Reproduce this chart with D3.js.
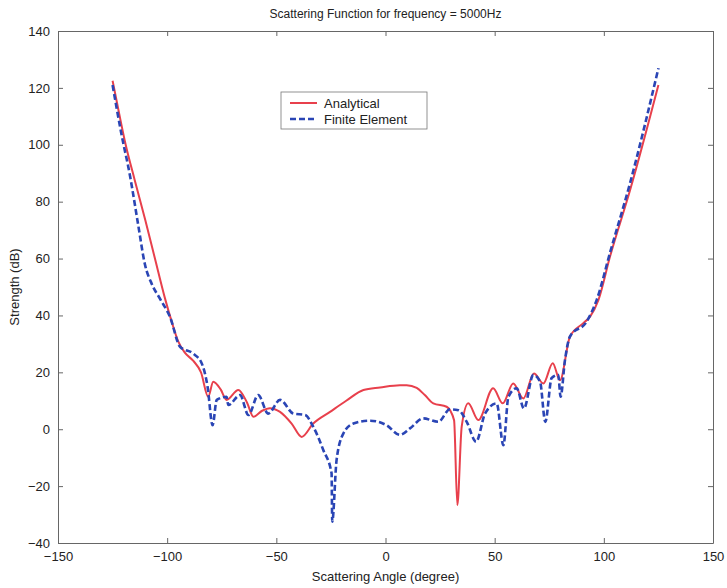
<!DOCTYPE html>
<html>
<head>
<meta charset="utf-8">
<script src="https://cdn.jsdelivr.net/npm/d3@7"></script>
<style>
  body { margin: 0; background: #fff; }
  text { font-family: "Liberation Sans", Arial, sans-serif; fill: #222; }
</style>
</head>
<body>
<svg id="chart"></svg>
<script>
// Analytical (solid red) - angle in degrees, strength in dB
var analyticalAngle = [-125, -122, -119, -115, -110, -105.6, -101, -98, -95, -92, -88, -84.5, -81.2, -78.9, -75.5, -72.8, -67.4, -63.5, -60.5, -56.5, -52.9, -48.3, -43, -38.4, -33.1, -25.4, -18, -10.1, -2.5, 6.6, 9.7, 14.3, 18, 21.9, 28, 31.4, 32.9, 34.9, 37.9, 42.5, 49.3, 53.7, 58.5, 63.1, 68, 72.3, 76.6, 79.9, 84.5, 90.6, 93.7, 97.5, 102.8, 112, 125];
var analyticalDb = [122.5, 111, 100, 88, 73.5, 60, 46, 38, 31, 27, 24, 20, 11.4, 16.7, 14, 10.3, 13.8, 9.5, 4.4, 6.5, 7.4, 6.1, 2, -2.7, 2, 6.1, 10, 13.8, 14.7, 15.5, 15.5, 14.5, 12, 9.1, 7.9, 3.2, -26.7, 0.9, 9.1, 3.2, 14.4, 9.1, 16.1, 10.8, 19.6, 16.1, 23.2, 17.2, 32.6, 37.3, 39.6, 45.4, 60.6, 84, 121];

// Finite element (dashed blue)
var feAngle = [-125, -121, -117, -113.2, -110.2, -107, -103, -98.7, -94.1, -88.1, -84.2, -81.5, -79.2, -77.3, -72.8, -72, -66.6, -62.8, -58.3, -53.7, -48.3, -42.2, -36.8, -33.1, -28.5, -24.7, -24.4, -22.4, -19.3, -14.7, -7.1, 0.5, 6.6, 11.2, 17.3, 24.2, 29.5, 33.4, 37.2, 41.5, 45.6, 50.9, 54, 56.3, 60.1, 63.4, 67.7, 70.8, 73.2, 76.1, 79.1, 80.2, 82.2, 84.5, 92.1, 96.7, 103, 112, 125];
var feDb = [121, 104, 89, 71.5, 58, 51, 45.5, 39.5, 29, 26.6, 23.2, 15, 1.4, 10.3, 11.4, 8.5, 12, 5, 12, 5.5, 10.3, 5.5, 5, 0.9, -7.3, -15.5, -32.5, -10.8, -1.5, 2, 3, 1.4, -2, 0.3, 3.8, 2.6, 7, 6.7, 2.6, -4.4, 5.5, 9.1, -5.6, 11.4, 14.4, 7.3, 19.1, 16.7, 2.6, 18, 19.1, 11.4, 24.3, 32.6, 37.8, 45.4, 62.5, 86.5, 126.9];

var xTicks = [-150, -100, -50, 0, 50, 100, 150];
var yTicks = [-40, -20, 0, 20, 40, 60, 80, 100, 120, 140];

var W = 727, H = 588;
var margin = { top: 31, right: 14, bottom: 45, left: 58 };
var width = W - margin.left - margin.right,
    height = H - margin.top - margin.bottom;

var svg = d3.select("#chart").attr("width", W).attr("height", H);
var g = svg.append("g").attr("transform", `translate(${margin.left},${margin.top})`);

var xScale = d3.scaleLinear().domain([-150, 150]).range([0, width]);
var yScale = d3.scaleLinear().domain([-40, 140]).range([height, 0]);

// Axes, MATLAB style: ticks pointing inward on all four sides
g.append("g")
    .attr("transform", `translate(0, ${height})`)
    .call(d3.axisBottom(xScale).tickValues(xTicks).tickSizeInner(-5).tickSizeOuter(0).tickPadding(9));
g.append("g")
    .call(d3.axisTop(xScale).tickValues(xTicks).tickSizeInner(-5).tickSizeOuter(0).tickFormat(""));
g.append("g")
    .call(d3.axisLeft(yScale).tickValues(yTicks).tickSizeInner(-5).tickSizeOuter(0).tickPadding(8));
g.append("g")
    .attr("transform", `translate(${width}, 0)`)
    .call(d3.axisRight(yScale).tickValues(yTicks).tickSizeInner(-5).tickSizeOuter(0).tickFormat(""));

g.selectAll(".domain").attr("stroke", "#666");
g.selectAll(".tick line").attr("stroke", "#666");
g.selectAll(".tick text").style("font-size", "13px").attr("fill", "#222");

// Lines
var line = d3.line()
    .x(function (d) { return xScale(d[0]); })
    .y(function (d) { return yScale(d[1]); })
    .curve(d3.curveMonotoneX);

var analytical = analyticalAngle.map(function (a, i) { return [a, analyticalDb[i]]; });
var fe = feAngle.map(function (a, i) { return [a, feDb[i]]; });

g.append("path")
    .datum(analytical)
    .attr("fill", "none")
    .attr("stroke", "#e8404c")
    .attr("stroke-width", 2)
    .attr("d", line);

g.append("path")
    .datum(fe)
    .attr("fill", "none")
    .attr("stroke", "#2a45b5")
    .attr("stroke-width", 2.6)
    .attr("stroke-dasharray", "6,3")
    .attr("d", line);

// Title
svg.append("text")
    .attr("x", margin.left + width / 2)
    .attr("y", 18)
    .attr("text-anchor", "middle")
    .style("font-size", "12px")
    .text("Scattering Function for frequency = 5000Hz");

// X axis label
svg.append("text")
    .attr("x", margin.left + width / 2)
    .attr("y", 581)
    .attr("text-anchor", "middle")
    .style("font-size", "13px")
    .text("Scattering Angle (degree)");

// Y axis label
svg.append("text")
    .attr("transform", "rotate(-90)")
    .attr("x", -(margin.top + height / 2))
    .attr("y", 19)
    .attr("text-anchor", "middle")
    .style("font-size", "13px")
    .text("Strength (dB)");

// Legend
var legend = svg.append("g").attr("transform", "translate(281, 92)");
legend.append("rect")
    .attr("width", 146).attr("height", 37)
    .attr("fill", "#fff").attr("stroke", "#777").attr("stroke-width", 0.8);
var items = [
    { name: "Analytical", color: "#e8404c", dash: null, w: 2 },
    { name: "Finite Element", color: "#2a45b5", dash: "6,3", w: 2.6 }
];
items.forEach(function (d, i) {
    var y = 11 + i * 16;
    legend.append("line")
        .attr("x1", 9).attr("x2", 36).attr("y1", y).attr("y2", y)
        .attr("stroke", d.color).attr("stroke-width", d.w)
        .attr("stroke-dasharray", d.dash);
    legend.append("text")
        .attr("x", 43).attr("y", y + 4.5)
        .style("font-size", "13px")
        .text(d.name);
});
</script>
</body>
</html>
